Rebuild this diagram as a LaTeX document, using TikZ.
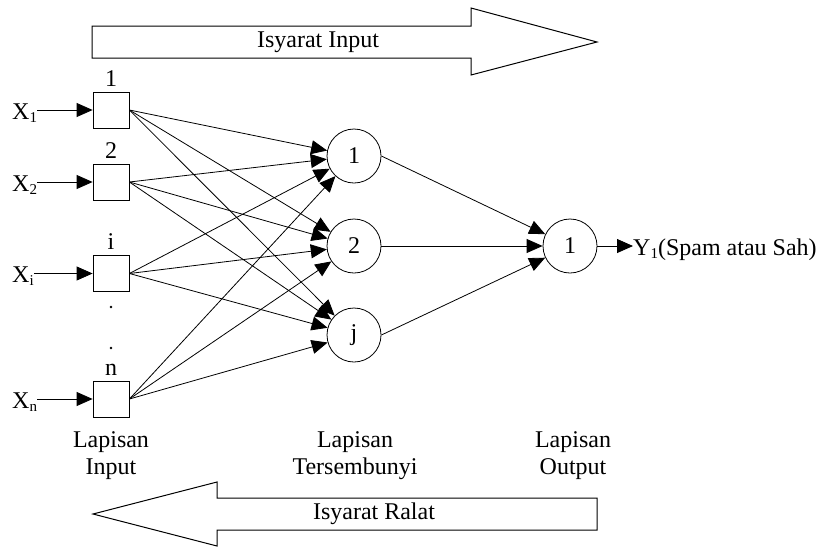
\documentclass[tikz,border=0pt]{standalone}
\usepackage{fontspec}
\setmainfont{Liberation Serif}
\usetikzlibrary{arrows.meta}
\newcommand{\sbs}[1]{\raisebox{-3pt}{\fontsize{15}{15}\selectfont #1}}
\begin{document}
\begin{tikzpicture}[x=1pt,y=-1pt,
  txt/.style={inner sep=0pt,font=\fontsize{24}{27}\selectfont},
  inbox/.style={draw,line width=0.8pt,minimum size=36pt,inner sep=0pt},
  neuron/.style={draw,circle,line width=0.8pt,minimum size=54pt,inner sep=0pt,font=\fontsize{24}{27}\selectfont},
  arr/.style={line width=0.8pt,-{Triangle[length=16pt,width=14pt]}},
  bigarrow/.style={draw,line width=1pt,line join=miter}]
\useasboundingbox (0,0) rectangle (819,547);
% big arrows
\draw[bigarrow] (92,26) -- (471,26) -- (471,8) -- (597,42) -- (471,75) -- (471,58) -- (92,58) -- cycle;
\node[txt] (isin) at (318,42) {Isyarat Input};
\draw[bigarrow] (597,498) -- (217,498) -- (217,482) -- (93,514) -- (217,546) -- (217,530) -- (597,530) -- cycle;
\node[txt] (isra) at (374,514) {Isyarat Ralat};
% input boxes
\node[inbox] (b1) at (111,110) {};
\node[inbox] (b2) at (111,182) {};
\node[inbox] (bi) at (111,273.5) {};
\node[inbox] (bn) at (111,399) {};
\node[txt,anchor=base] (lb1) at (b1.north) [yshift=5.5pt] {1};
\node[txt,anchor=base] (lb2) at (b2.north) [yshift=5.5pt] {2};
\node[txt,anchor=base] (lbi) at (bi.north) [yshift=6pt] {i};
\node[txt,anchor=base] (lbn) at (bn.north) [yshift=5.5pt] {n};
\fill (111,307) circle (1.3pt);
\fill (111,348) circle (1.3pt);
% X labels
\node[txt,anchor=base west] (x1) at (12,119) {X\sbs{1}};
\node[txt,anchor=base west] (x2) at (12,191) {X\sbs{2}};
\node[txt,anchor=base west] (xi) at (12,282.5) {X\sbs{i}};
\node[txt,anchor=base west] (xn) at (12,408) {X\sbs{n}};
\draw[arr] (x1.east |- b1.west) -- (b1.west);
\draw[arr] (x2.east |- b2.west) -- (b2.west);
\draw[arr] (xi.east |- bi.west) -- (bi.west);
\draw[arr] (xn.east |- bn.west) -- (bn.west);
% hidden
\node[neuron] (h1) at (354,156) {1};
\node[neuron] (h2) at (354,246) {2};
\node[neuron] (hj) at (354,335) {j};
% output
\node[neuron] (o1) at (570,246) {1};
\foreach \b in {b1,b2,bi,bn}{
  \foreach \h in {h1,h2,hj}{
    \draw[arr] (\b.east) -- (\h);
  }
}
\foreach \h in {h1,h2,hj}{
  \draw[arr] (\h.east) -- (o1);
}
\node[txt,anchor=base west] (y1) at (633,255) {Y\sbs{1}(Spam atau Sah)};
\draw[arr] (o1.east) -- (o1.east -| y1.west);
% layer labels
\node[txt,anchor=base,align=center] (lin) at (111,474) {Lapisan\\Input};
\node[txt,anchor=base,align=center] (lhid) at (355,474) {Lapisan\\Tersembunyi};
\node[txt,anchor=base,align=center] (lout) at (573,474) {Lapisan\\Output};
\end{tikzpicture}
\end{document}
